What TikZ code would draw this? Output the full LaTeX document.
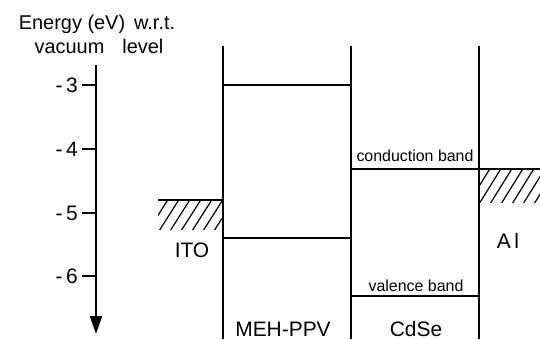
\documentclass[tikz,border=0pt]{standalone}
\usepackage{fontspec}
\setmainfont{Liberation Sans}
\usetikzlibrary{arrows.meta}
\begin{document}
\begin{tikzpicture}[x=1bp,y=-1bp,
  lvl/.style={line width=1.8bp},
  wall/.style={line width=2bp},
  big/.style={font=\fontsize{21}{24}\selectfont, inner sep=0pt},
  ttl/.style={font=\fontsize{20}{23}\selectfont, inner sep=0pt},
  small/.style={font=\fontsize{16}{18}\selectfont, inner sep=0pt},
  hatchline/.style={line width=1.2bp}]
\useasboundingbox (0,0) rectangle (540,339);
% title
\node[ttl, anchor=base] (t1) at (97,29) {Energy (eV)\hspace{9bp}w.r.t.};
\node[ttl, anchor=base] (t2) at (99,53) {vacuum\hspace{18bp}level};
% axis
\coordinate (atop) at (96,65);
\coordinate (abot) at (96,334);
\draw[wall,-{Triangle[width=12bp,length=18bp]}] (atop) -- (abot);
\foreach \v/\y in {3/85,4/149,5/213,6/276}{
  \coordinate (tk\v) at (96,\y);
  \draw[wall] (tk\v) -- ++(-14,0) coordinate (tl\v);
  \node[big, anchor=east] (lab\v) at ([xshift=-4bp]tl\v) {-\,\v};
}
% vertical walls
\coordinate (w1t) at (223,46); \coordinate (w1b) at (223,339);
\coordinate (w2t) at (351,46); \coordinate (w2b) at (351,339);
\coordinate (w3t) at (479,46); \coordinate (w3b) at (479,339);
\draw[wall] (w1t) -- (w1b);
\draw[wall] (w2t) -- (w2b);
\draw[wall] (w3t) -- (w3b);
% levels
\coordinate (mL1) at (223,85); \coordinate (mL2) at (351,85);
\coordinate (mH1) at (223,238); \coordinate (mH2) at (351,238);
\coordinate (cC1) at (351,169); \coordinate (cC2) at (479,169);
\coordinate (cV1) at (351,296); \coordinate (cV2) at (479,296);
\coordinate (ito1) at (158,200); \coordinate (ito2) at (223,200);
\coordinate (al1) at (479,169); \coordinate (al2) at (540,169);
\draw[lvl] (mL1) -- (mL2);
\draw[lvl] (mH1) -- (mH2);
\draw[lvl] (cC1) -- (cC2);
\draw[lvl] (cV1) -- (cV2);
\draw[lvl] (ito1) -- (ito2);
\draw[lvl] (al1) -- (al2);
% hatching
\begin{scope}
\clip (158,200) rectangle (223,229);
\foreach \i in {0,...,8}{
  \draw[hatchline] (148+\i*11,231) -- ++(21,-33);
}
\end{scope}
\begin{scope}
\clip (479,169) rectangle (540,202);
\foreach \i in {0,...,8}{
  \draw[hatchline] (468+\i*11,204) -- ++(23,-37);
}
\end{scope}
% labels
\node[small, anchor=base] (cb) at (415,161) {conduction band};
\node[small, anchor=base] (vb) at (416,291) {valence band};
\node[big, anchor=base] (ito) at (192,257) {ITO};
\node[big, anchor=base] (al) at (508,248) {A\,l};
\node[big, anchor=base] (meh) at (283,336) {MEH-PPV};
\node[big, anchor=base] (cdse) at (416,336) {CdSe};
\end{tikzpicture}
\end{document}
